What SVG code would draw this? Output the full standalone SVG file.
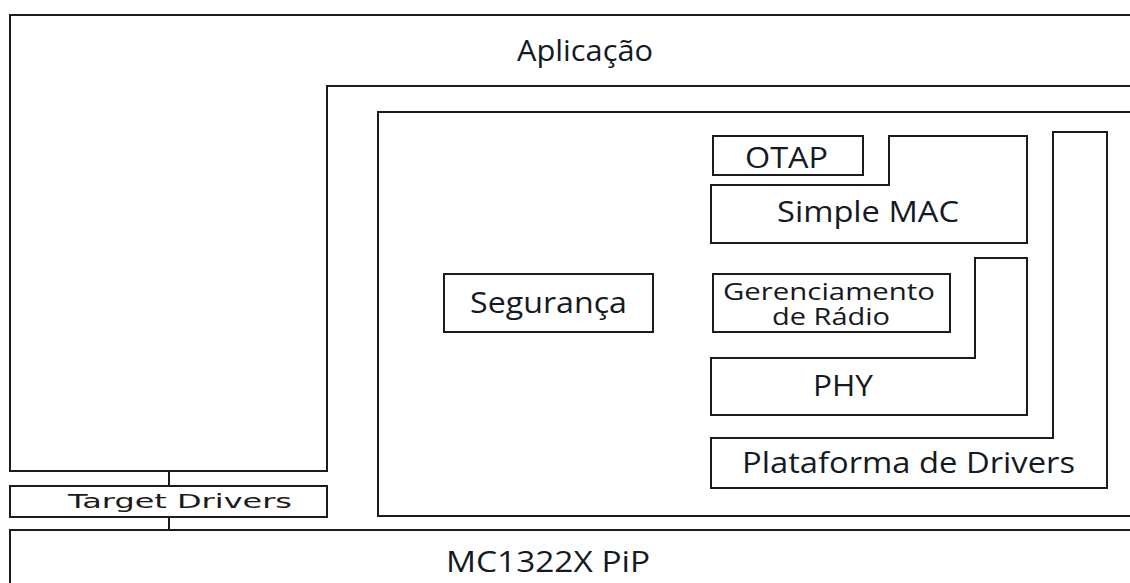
<svg xmlns="http://www.w3.org/2000/svg" width="1130" height="583" viewBox="0 0 1130 583">
  <style>
    .frame { fill: none; stroke: #1c1c1c; stroke-width: 2; stroke-linejoin: miter; }
    .box { fill: #ffffff; stroke: #1c1c1c; stroke-width: 2; }
    .label { font-family: "Open Sans", "Liberation Sans", sans-serif; font-size: 30px; fill: #141a24; text-anchor: middle; }
    .small { font-size: 24px; }
    .tech { font-family: "DejaVu Sans", "Liberation Sans", sans-serif; font-size: 20px; fill: #1a1a1a; text-anchor: middle; }
  </style>
  <rect x="0" y="0" width="1130" height="583" fill="#ffffff"/>

  <!-- application layer wraps around the stack -->
  <g id="aplicacao">
    <path class="frame" d="M1135,15 H10 V471 H327 V86 H1135"/>
    <text class="label" x="585" y="61" textLength="136" lengthAdjust="spacingAndGlyphs">Aplicação</text>
  </g>

  <!-- stack container -->
  <g id="pilha">
    <path class="frame" d="M1135,112 H378 V516 H1135"/>
  </g>

  <g id="target-drivers">
    <rect class="box" x="10" y="486" width="317" height="31"/>
    <text class="tech" x="180" y="508" textLength="224" lengthAdjust="spacingAndGlyphs">Target Drivers</text>
  </g>

  <g id="mc1322x">
    <path class="frame" d="M1135,530 H10 V590"/>
    <text class="label" x="548" y="572" textLength="204" lengthAdjust="spacingAndGlyphs">MC1322X PiP</text>
  </g>

  <g id="seguranca">
    <rect class="box" x="444" y="274" width="209" height="58"/>
    <text class="label" x="548.5" y="313" textLength="157" lengthAdjust="spacingAndGlyphs">Segurança</text>
  </g>

  <g id="plataforma">
    <path class="box" d="M711,438 H1053 V132 H1107 V488 H711 Z"/>
    <text class="label" x="908.5" y="473" textLength="333" lengthAdjust="spacingAndGlyphs">Plataforma de Drivers</text>
  </g>

  <g id="simple-mac">
    <path class="box" d="M711,185 H889 V136 H1027 V243 H711 Z"/>
    <text class="label" x="868" y="222" textLength="182" lengthAdjust="spacingAndGlyphs">Simple MAC</text>
  </g>

  <g id="otap">
    <rect class="box" x="713" y="136" width="150" height="39"/>
    <text class="label" x="786.5" y="168" textLength="83" lengthAdjust="spacingAndGlyphs">OTAP</text>
  </g>

  <g id="phy">
    <path class="box" d="M711,358 H975 V258 H1027 V415 H711 Z"/>
    <text class="label" x="843" y="396" textLength="60" lengthAdjust="spacingAndGlyphs">PHY</text>
  </g>

  <g id="gerenciamento">
    <rect class="box" x="713" y="274" width="237" height="58"/>
    <text class="label small" x="829" y="300" textLength="212" lengthAdjust="spacingAndGlyphs">Gerenciamento</text>
    <text class="label small" x="831" y="325" textLength="118" lengthAdjust="spacingAndGlyphs">de Rádio</text>
  </g>

  <!-- links through the target drivers -->
  <g id="connectors">
    <line class="frame" x1="169" y1="471" x2="169" y2="486"/>
    <line class="frame" x1="169" y1="517" x2="169" y2="530"/>
  </g>
</svg>
